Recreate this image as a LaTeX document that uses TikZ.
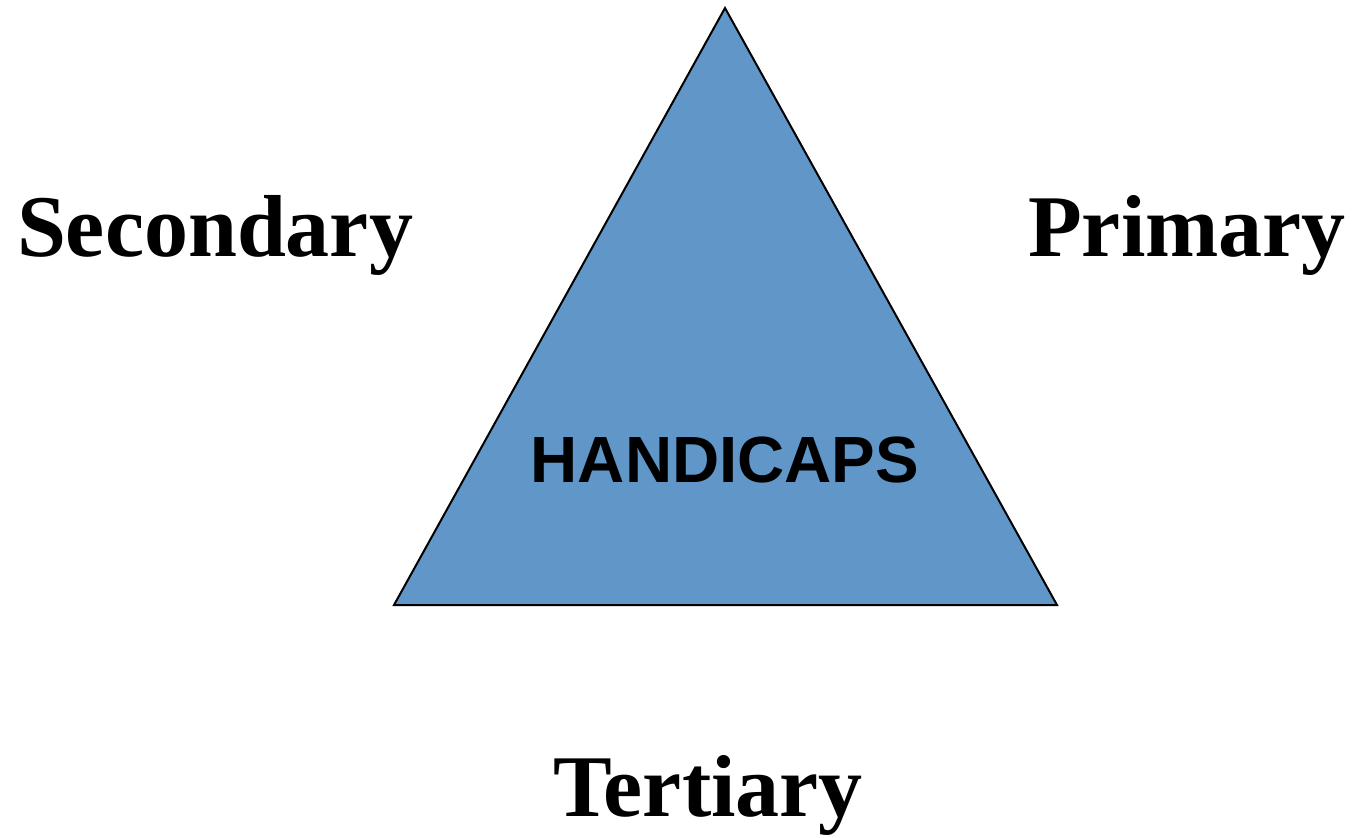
\documentclass[tikz,border=0pt]{standalone}
\usepackage{fontspec}
\setmainfont{Liberation Serif}
\setsansfont{Liberation Sans}
\usepackage{tikz}
\usetikzlibrary{positioning}
\definecolor{handiblue}{HTML}{6096C8}

\begin{document}
\begin{tikzpicture}[x=0.75pt, y=-0.75pt,
  level/.style={anchor=base, inner sep=0pt, font=\fontsize{66}{72}\selectfont\bfseries},
  core/.style={anchor=base, inner sep=0pt, font=\fontsize{49}{55}\selectfont\sffamily\bfseries}]
  \useasboundingbox (0,0) rectangle (1353,838);

  % the triangle
  \coordinate (apex) at (725,8);
  \coordinate (lcorner) at (394,605);
  \coordinate (rcorner) at (1057,605);
  \filldraw[fill=handiblue, draw=black, line width=1.5pt, line join=miter]
    (apex) -- (lcorner) -- (rcorner) -- cycle;

  \node[core] (handicaps) at (725,482) {HANDICAPS};

  % the three levels round it
  \node[level] (secondary) at (215,257) {Secondary};
  \node[level] (primary) at (1187,257) {Primary};
  \node[level] (tertiary) at (708,816) {Tertiary};
\end{tikzpicture}
\end{document}
